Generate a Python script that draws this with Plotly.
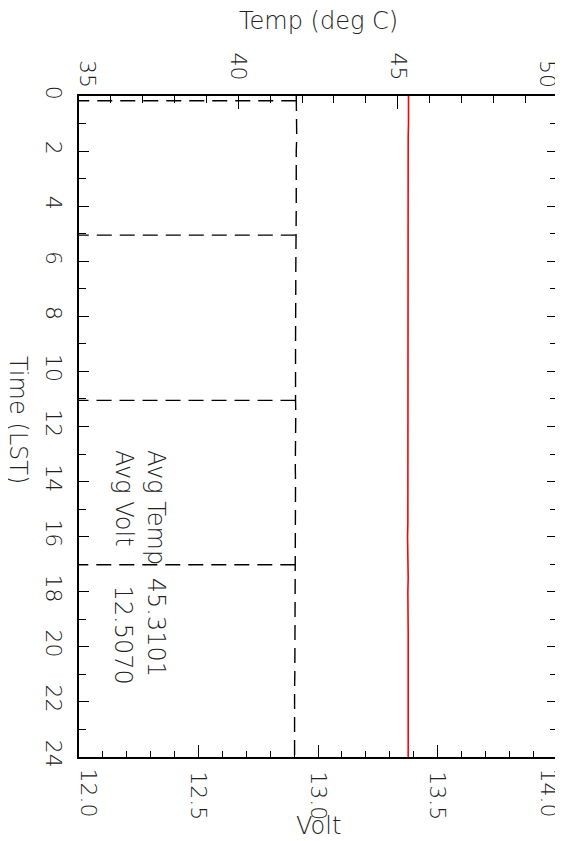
import plotly.graph_objects as go

# ---- data ----
# Voltage record (hours LST, volts)
volt_time = [0.0, 0.5, 1.0, 1.5, 2.0, 2.5, 3.0, 3.5, 4.0, 4.5, 5.0, 5.5, 6.0, 6.5, 7.0,
             7.5, 8.0, 8.5, 9.0, 9.5, 10.0, 10.5, 11.0, 11.5, 12.0, 12.5, 13.0, 13.5, 14.0,
             14.5, 15.0, 15.5, 16.0, 16.5, 17.0, 17.5, 18.0, 18.5, 19.0, 19.5, 20.0, 20.5,
             21.0, 21.5, 22.0, 22.5, 23.0, 23.5, 24.0]
volt = [12.909, 12.910, 12.909, 12.911, 12.909, 12.910, 12.910, 12.909, 12.909, 12.908,
        12.907, 12.907, 12.906, 12.907, 12.907, 12.906, 12.908, 12.907, 12.906, 12.906,
        12.905, 12.906, 12.906, 12.907, 12.906, 12.906, 12.906, 12.905, 12.906, 12.906,
        12.905, 12.905, 12.905, 12.905, 12.905, 12.905, 12.904, 12.904, 12.904, 12.903,
        12.903, 12.903, 12.903, 12.902, 12.902, 12.902, 12.902, 12.902, 12.902]
# Voltage dropouts (hours LST, volts before the drop, dropout value far off scale)
drop_time = [0.17, 5.05, 11.05, 17.02]
drop_from = [12.909, 12.907, 12.906, 12.905]
drop_value = [0.0, 0.0, 0.0, 0.0]

# Temperature record (hours LST, deg C)
temp_time = [0.0, 0.5, 1.0, 1.5, 2.0, 2.5, 3.0, 3.5, 4.0, 4.5, 5.0, 5.5, 6.0, 6.5, 7.0,
             7.5, 8.0, 8.5, 9.0, 9.5, 10.0, 10.5, 11.0, 11.5, 12.0, 12.5, 13.0, 13.5, 14.0,
             14.5, 15.0, 15.5, 16.0, 16.5, 17.0, 17.5, 18.0, 18.5, 19.0, 19.5, 20.0, 20.5,
             21.0, 21.5, 22.0, 22.5, 23.0, 23.5, 24.0]
temp = [45.34, 45.35, 45.34, 45.33, 45.33, 45.34, 45.34, 45.33, 45.33, 45.34, 45.33,
        45.33, 45.32, 45.33, 45.33, 45.32, 45.33, 45.33, 45.33, 45.32, 45.33, 45.33,
        45.34, 45.33, 45.33, 45.32, 45.33, 45.33, 45.33, 45.32, 45.33, 45.32, 45.31,
        45.32, 45.33, 45.33, 45.32, 45.33, 45.34, 45.33, 45.33, 45.33, 45.33, 45.33,
        45.33, 45.33, 45.33, 45.33, 45.33]

time_ticks = [0, 2, 4, 6, 8, 10, 12, 14, 16, 18, 20, 22, 24]
volt_ticks = [12.0, 12.5, 13.0, 13.5, 14.0]
volt_ticktext = ["12.0", "12.5", "13.0", "13.5", "14.0"]
temp_ticks = [35, 40, 45, 50]
temp_ticktext = ["35", "40", "45", "50"]

avg_labels = ["Avg Temp", "Avg Volt"]
avg_values = ["45.3101", "12.5070"]

FONT = "DejaVu Sans ExtraLight, DejaVu Sans Light, DejaVu Sans, sans-serif"
TXT = "#222222"

# page body adds an 8 px offset; plot frame wanted at x 78.5..557, y 96..757 on screen
OFF = 8
PL, PR, PT, PB = 78.5 - OFF, 557 - OFF, 96 - OFF, 757 - OFF
W, H = 563, 841

# dropout excursions as separate sub-paths (None breaks the path)
dx, dy = [], []
for t, v0, v1 in zip(drop_time, drop_from, drop_value):
    dx += [v0, v1, None]
    dy += [t, t, None]

fig = go.Figure()
fig.add_trace(go.Scatter(x=volt, y=volt_time, mode="lines", xaxis="x", yaxis="y",
                         line=dict(color="black", width=1.4, dash="15px,8px"),
                         showlegend=False, hoverinfo="skip"))
fig.add_trace(go.Scatter(x=dx, y=dy, mode="lines", xaxis="x", yaxis="y",
                         connectgaps=False,
                         line=dict(color="black", width=1.4, dash="15px,8px"),
                         showlegend=False, hoverinfo="skip"))
fig.add_trace(go.Scatter(x=temp, y=temp_time, mode="lines", xaxis="x2", yaxis="y",
                         line=dict(color="#ff0000", width=1.6),
                         showlegend=False, hoverinfo="skip"))
# invisible trace anchoring the right-hand mirror axis
fig.add_trace(go.Scatter(x=[12.0], y=[0], mode="markers", xaxis="x", yaxis="y2",
                         marker=dict(opacity=0), showlegend=False, hoverinfo="skip"))

tick_font = dict(family=FONT, size=22, color=TXT)
title_font = dict(family=FONT, size=24, color=TXT)
text_font = dict(family=FONT, size=24, color=TXT)
axis_common = dict(showgrid=False, zeroline=False, showline=True, linecolor="black",
                   linewidth=1.5, ticks="inside", tickcolor="black", tickwidth=1.2,
                   tickangle=90, tickfont=tick_font, automargin=False)

def minor(step, ln):
    return dict(dtick=step, ticklen=ln, ticks="inside", tickcolor="black", tickwidth=1.2)

# end labels of the horizontal axes are drawn pulled inward (as in the reference)
volt_axis_text = [""] + volt_ticktext[1:-1] + [""]
temp_axis_text = [""] + temp_ticktext[1:-1] + [""]

fig.update_layout(
    width=W, height=H,
    margin=dict(l=PL, r=W - PR, t=PT, b=H - PB, autoexpand=False),
    paper_bgcolor="white", plot_bgcolor="white",
    xaxis=dict(range=[12.0, 14.0], tickvals=volt_ticks, ticktext=volt_axis_text,
               ticklen=12, ticklabelstandoff=8, minor=minor(0.1, 6), **axis_common),
    xaxis2=dict(range=[35, 50], overlaying="x", side="top", tickvals=temp_ticks,
                ticktext=temp_axis_text,
                ticklen=13, ticklabelstandoff=6, minor=minor(1, 7), **axis_common),
    yaxis=dict(range=[24, 0], tickvals=time_ticks, ticklen=10,
               ticklabelstandoff=5, minor=minor(1, 7), **axis_common),
    yaxis2=dict(range=[24, 0], overlaying="y", side="right", anchor="x",
                tickvals=time_ticks, ticklen=10, showticklabels=False,
                minor=minor(1, 7), **axis_common),
)

pw, ph = PR - PL, PB - PT
ann = []
ann.append(dict(text="Temp (deg C)", xref="paper", yref="paper", x=0.5,
                y=(PB - (21 - OFF)) / ph, xanchor="center", yanchor="middle",
                showarrow=False, font=title_font))
ann.append(dict(text="Volt", xref="paper", yref="paper", x=0.5,
                y=(PB - (826 - OFF)) / ph, xanchor="center", yanchor="middle",
                showarrow=False, font=title_font))
ann.append(dict(text="Time (LST)", xref="paper", yref="paper",
                x=((18 - OFF) - PL) / pw, y=0.5 + 7 / ph, borderpad=0,
                xanchor="center", yanchor="middle", textangle=90, showarrow=False,
                font=title_font))
# end tick labels of bottom (Volt) and top (Temp) axes
for i, sh in ((0, 9), (-1, -9)):
    ann.append(dict(text=volt_ticktext[i], xref="x", yref="paper", x=volt_ticks[i], y=0,
                    xanchor="center", yanchor="top", xshift=sh, yshift=-9,
                    textangle=90, showarrow=False, font=tick_font))
    ann.append(dict(text=temp_ticktext[i], xref="x2", yref="paper", x=temp_ticks[i], y=1,
                    xanchor="center", yanchor="bottom", xshift=sh, yshift=6,
                    textangle=90, showarrow=False, font=tick_font))
# averages (rotated text inside the plot)
label_x = [12.32, 12.186]
value_top = [17.42, 17.70]
for lab, val, xv, vt in zip(avg_labels, avg_values, label_x, value_top):
    ann.append(dict(text=lab, xref="x", yref="y", x=xv, y=12.78, xanchor="center",
                    yanchor="top", textangle=90, showarrow=False, font=text_font))
    ann.append(dict(text=val, xref="x", yref="y", x=xv, y=vt, xanchor="center",
                    yanchor="top", textangle=90, showarrow=False, font=text_font))
fig.update_layout(annotations=ann)

fig.write_html("out.html")
